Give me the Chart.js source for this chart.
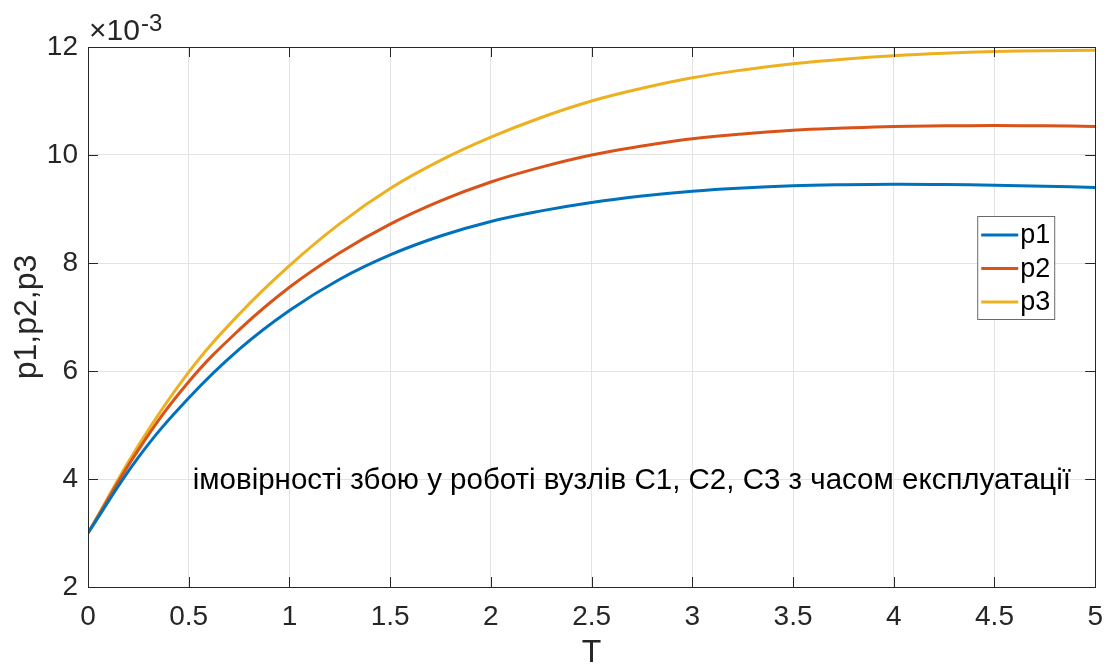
<!DOCTYPE html>
<html>
<head>
<meta charset="utf-8">
<script src="https://cdn.jsdelivr.net/npm/chart.js@4/dist/chart.umd.min.js"></script>
<style>
  html, body { margin: 0; padding: 0; background: #fff; }
  #wrap { width: 1116px; height: 666px; }
</style>
</head>
<body>
<div id="wrap"><canvas id="grafico"></canvas></div>
<script>
// dados (valores reais, eixo y mostrado em x10^-3)
const tempo = [0, 0.25, 0.5, 0.75, 1, 1.25, 1.5, 1.75, 2, 2.25, 2.5, 2.75, 3,
  3.25, 3.5, 3.75, 4, 4.25, 4.5, 4.75, 5];
const p1 = [3.00, 4.40, 5.50, 6.40, 7.12, 7.70, 8.15, 8.50, 8.77, 8.965, 9.12, 9.24, 9.33,
  9.39, 9.43, 9.45, 9.46, 9.455, 9.44, 9.42, 9.40].map(v => v / 1000);
const p2 = [3.00, 4.54, 5.80, 6.76, 7.55, 8.19, 8.72, 9.15, 9.50, 9.775, 10.00, 10.165, 10.30,
  10.39, 10.46, 10.50, 10.53, 10.54, 10.545, 10.54, 10.53].map(v => v / 1000);
const p3 = [3.00, 4.62, 5.98, 7.05, 7.95, 8.73, 9.38, 9.90, 10.33, 10.695, 11.00, 11.235, 11.43,
  11.575, 11.69, 11.775, 11.84, 11.885, 11.915, 11.932, 11.94].map(v => v / 1000);

const nomes = ['p1', 'p2', 'p3'];
const cores = ['#0072BD', '#D95319', '#EDB120'];
const textoNota = 'імовірності збою у роботі вузлів C1, C2, C3 з часом експлуатації';
const notaPos = { x: 0.52, y: 0.00396 };

const fonte = "'Liberation Sans', Arial, Helvetica, sans-serif";
const corEixo = '#262626';

function pontos(ys) {
  return tempo.map((t, i) => ({ x: t, y: ys[i] }));
}

// caixa, marcas para dentro, legenda, nota e multiplicador
const extras = {
  id: 'extras',
  afterDatasetsDraw(chart) {
    const ctx = chart.ctx;
    const a = chart.chartArea;
    const sx = chart.scales.x, sy = chart.scales.y;
    ctx.save();

    // marcas
    ctx.strokeStyle = corEixo;
    ctx.lineWidth = 1;
    ctx.beginPath();
    sx.ticks.forEach(tk => {
      const px = Math.round(sx.getPixelForValue(tk.value)) + 0.5;
      ctx.moveTo(px, a.bottom); ctx.lineTo(px, a.bottom - 10);
      ctx.moveTo(px, a.top); ctx.lineTo(px, a.top + 10);
    });
    sy.ticks.forEach(tk => {
      const py = Math.round(sy.getPixelForValue(tk.value)) + 0.5;
      ctx.moveTo(a.left, py); ctx.lineTo(a.left + 10, py);
      ctx.moveTo(a.right, py); ctx.lineTo(a.right - 10, py);
    });
    ctx.stroke();
    ctx.strokeRect(Math.round(a.left) + 0.5, Math.round(a.top) + 0.5,
      Math.round(a.right - a.left), Math.round(a.bottom - a.top));

    // nota
    ctx.fillStyle = '#000';
    ctx.font = '29.5px ' + fonte;
    ctx.textAlign = 'left';
    ctx.textBaseline = 'middle';
    ctx.fillText(textoNota, sx.getPixelForValue(notaPos.x), sy.getPixelForValue(notaPos.y));

    // x10^-3
    ctx.fillStyle = corEixo;
    ctx.textBaseline = 'alphabetic';
    ctx.font = '30px ' + fonte;
    ctx.fillText('\u00d710', a.left + 1, a.top - 7);
    const w = ctx.measureText('\u00d710').width;
    ctx.font = '24px ' + fonte;
    ctx.fillText('-3', a.left + 2 + w, a.top - 16);

    // legenda
    const bx = a.right - 118, by = a.top + 169, bw = 77, bh = 103;
    ctx.fillStyle = '#fff';
    ctx.fillRect(bx, by, bw, bh);
    ctx.strokeStyle = '#6b6b6b';
    ctx.strokeRect(bx + 0.5, by + 0.5, bw, bh);
    ctx.font = '27px ' + fonte;
    ctx.textBaseline = 'middle';
    chart.data.datasets.forEach((ds, i) => {
      const yy = by + 19 + i * 33.5;
      ctx.strokeStyle = ds.borderColor;
      ctx.lineWidth = 3;
      ctx.beginPath();
      ctx.moveTo(bx + 4, yy); ctx.lineTo(bx + 41, yy);
      ctx.stroke();
      ctx.fillStyle = '#000';
      ctx.fillText(ds.label, bx + 43, yy + 1);
    });
    ctx.restore();
  }
};

const ctx = document.getElementById('grafico').getContext('2d');
new Chart(ctx, {
  type: 'line',
  data: {
    datasets: [p1, p2, p3].map((s, i) => ({
      label: nomes[i],
      data: pontos(s),
      borderColor: cores[i],
      backgroundColor: cores[i],
      borderWidth: 3,
      pointRadius: 0,
      tension: 0.4,
      fill: false
    }))
  },
  options: {
    responsive: true,
    maintainAspectRatio: false,
    animation: false,
    layout: { padding: { left: 0, right: 16, top: 47, bottom: 0 } },
    plugins: {
      legend: { display: false },
      tooltip: { enabled: false }
    },
    scales: {
      x: {
        type: 'linear',
        min: 0,
        max: 5,
        afterFit: s => { s.height = 79; },
        ticks: {
          stepSize: 0.5,
          padding: 13,
          color: corEixo,
          font: { family: fonte, size: 28 },
          maxRotation: 0,
          autoSkip: false,
          callback: v => String(Math.round(v * 10) / 10)
        },
        grid: { color: '#e3e3e3', drawTicks: false },
        border: { display: false },
        title: {
          display: true,
          text: 'T',
          color: corEixo,
          font: { family: fonte, size: 32, lineHeight: 0.8 },
          padding: 0
        }
      },
      y: {
        type: 'linear',
        min: 0.002,
        max: 0.012,
        afterFit: s => { s.width = 88; },
        ticks: {
          stepSize: 0.002,
          padding: 10,
          color: corEixo,
          font: { family: fonte, size: 28 },
          callback: v => String(Math.round(v * 1000))
        },
        grid: { color: '#e3e3e3', drawTicks: false },
        border: { display: false },
        title: {
          display: true,
          text: 'p1,p2,p3',
          color: corEixo,
          font: { family: fonte, size: 32 },
          padding: { top: 8, bottom: 0 }
        }
      }
    }
  },
  plugins: [extras]
});
</script>
</body>
</html>
